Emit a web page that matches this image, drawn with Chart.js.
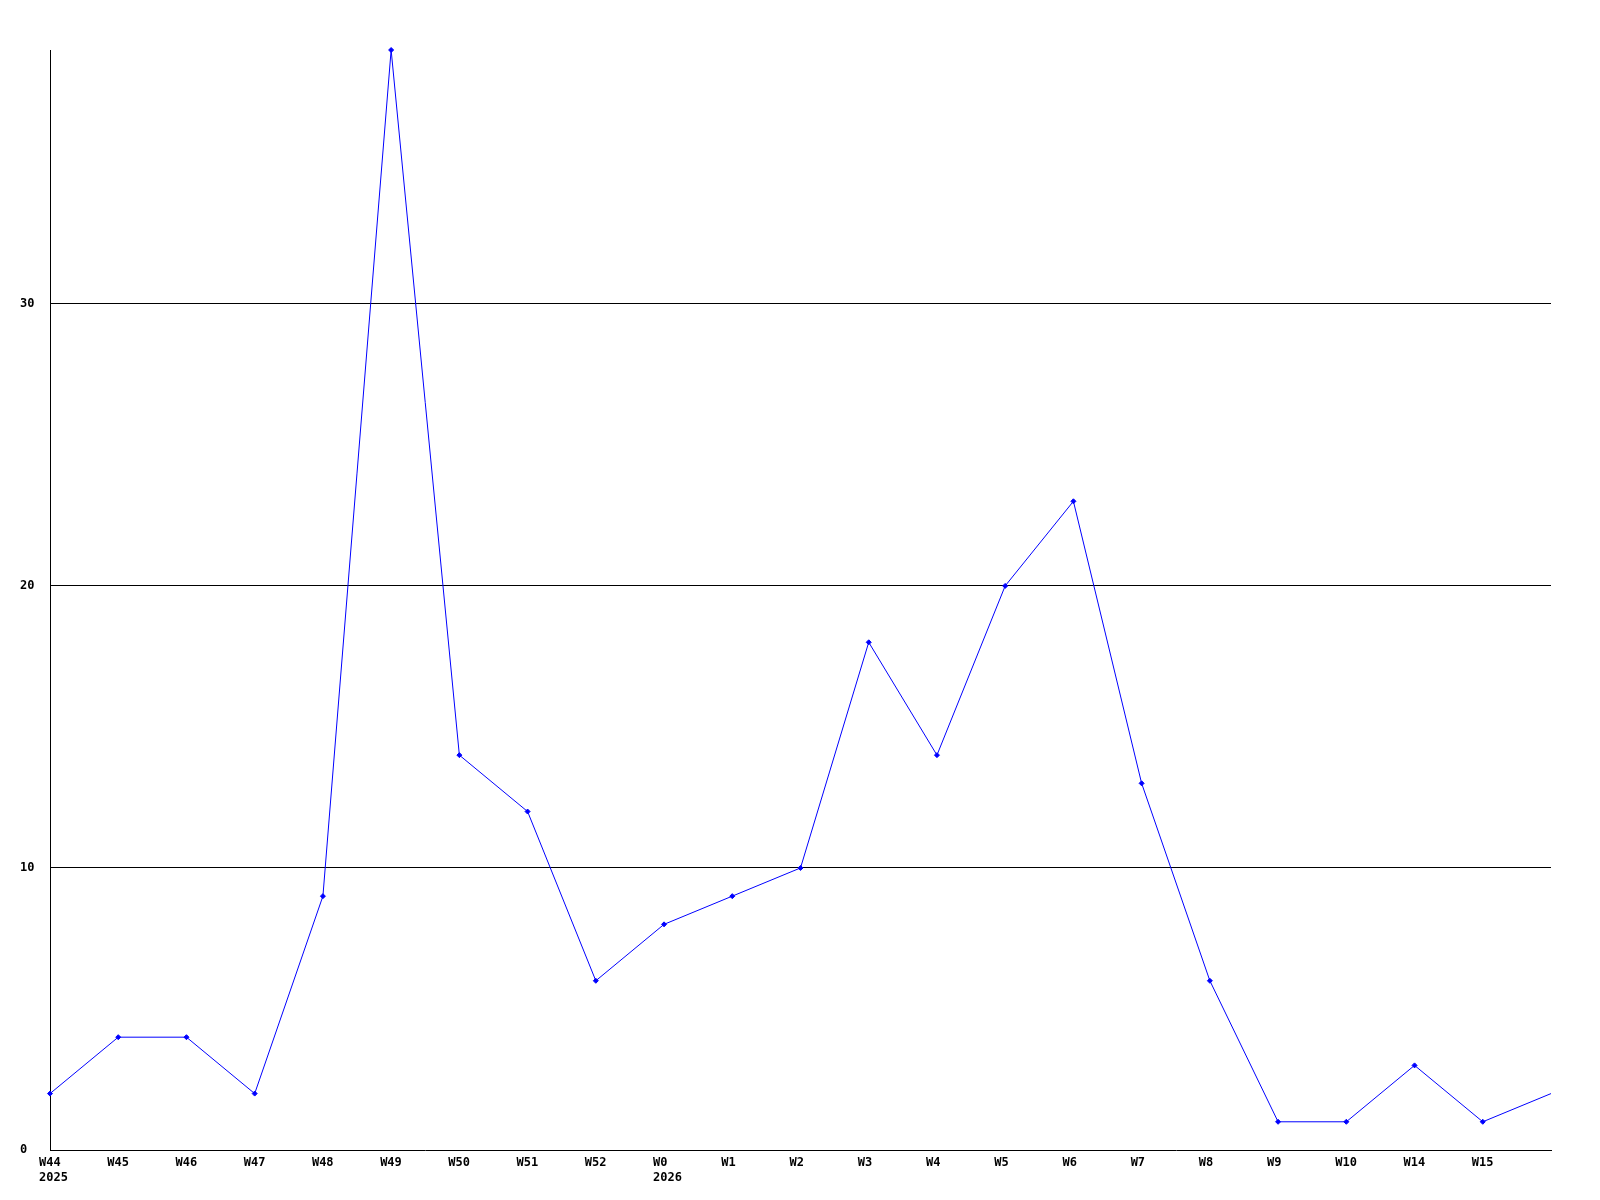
<!DOCTYPE html>
<html><head><meta charset="utf-8">
<script src="https://cdn.jsdelivr.net/npm/chart.js@4"></script>
<style>html,body{margin:0;padding:0;background:#fff}#wrap{width:1600px;height:1200px}</style>
</head><body><div id="wrap"><canvas id="c" width="1600" height="1200"></canvas></div>
<script>
const weeks = ['W44','W45','W46','W47','W48','W49','W50','W51','W52','W0','W1','W2','W3','W4','W5','W6','W7','W8','W9','W10','W14','W15',''];
const years = ['2025','','','','','','','','','2026','','','','','','','','','','','','',''];
const values = [2,4,4,2,9,39,14,12,6,8,9,10,18,14,20,23,13,6,1,1,3,1,2];
const yTicks = [0,10,20,30];
const yMax = 39;

const labelFont = {family:'DejaVu Sans Mono', weight:'bold', size:12, lineHeight:1.25};
const lastIndex = values.length - 1;

new Chart(document.getElementById('c').getContext('2d'), {
  type: 'line',
  data: {
    labels: weeks.map((w, i) => years[i] ? [w, years[i]] : w),
    datasets: [{
      data: values,
      borderColor: '#0000ff',
      borderWidth: 1,
      pointStyle: 'rectRot',
      pointRadius: c => c.dataIndex === lastIndex ? 0 : 2.5,
      pointBackgroundColor: '#0000ff',
      pointBorderColor: '#0000ff',
      pointBorderWidth: 1,
      tension: 0,
      fill: false,
      clip: false
    }]
  },
  options: {
    responsive: false,
    animation: false,
    devicePixelRatio: 1,
    plugins: {legend: {display: false}, tooltip: {enabled: false}},
    layout: {padding: {left: 20, top: 50, right: 49, bottom: 0}},
    scales: {
      x: {
        offset: false,
        grid: {display: false, drawTicks: false},
        border: {display: true, color: '#000', width: 1},
        ticks: {autoSkip: false, maxRotation: 0, minRotation: 0, align: 'start', labelOffset: -11, padding: 5, color: '#000', font: labelFont},
        afterFit: s => { s.height = 50; }
      },
      y: {
        min: 0, max: yMax,
        afterBuildTicks: s => { s.ticks = yTicks.map(v => ({value: v})); },
        grid: {color: '#000', drawTicks: false, lineWidth: c => (c.tick && c.tick.value === 0) ? 0 : 1},
        border: {display: true, color: '#000', width: 1},
        ticks: {crossAlign: 'far', padding: 0, color: '#000', font: labelFont},
        afterFit: s => { s.width = 30; }
      }
    }
  }
});
</script>
</body></html>
